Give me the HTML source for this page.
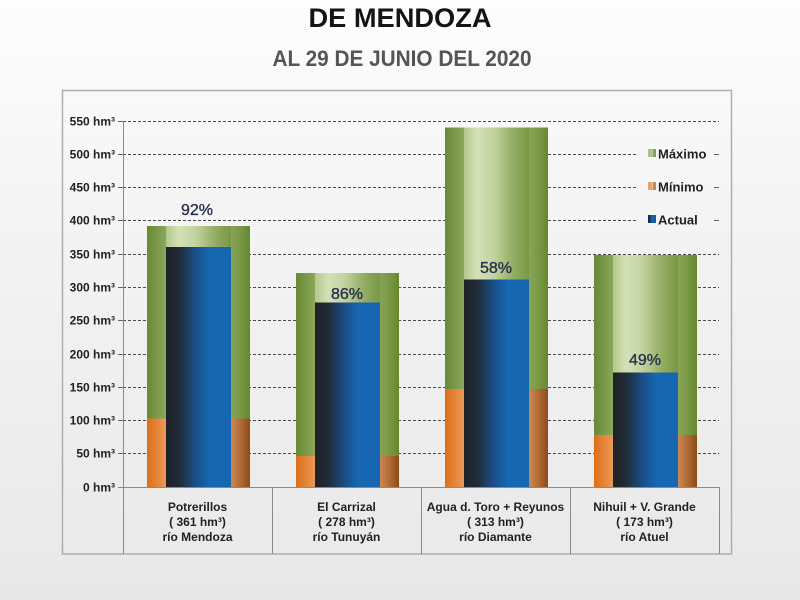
<!DOCTYPE html>
<html>
<head>
<meta charset="utf-8">
<style>
  html,body{margin:0;padding:0;}
  body{width:800px;height:600px;overflow:hidden;background:linear-gradient(to bottom,#fdfdfd 0%,#f3f3f3 40%,#e8e8e8 100%);font-family:"Liberation Sans",sans-serif;}
  svg{display:block;}
  text{font-family:"Liberation Sans",sans-serif;}
</style>
</head>
<body>
<svg width="800" height="600" viewBox="0 0 800 600" xmlns="http://www.w3.org/2000/svg">
  <defs>
    <linearGradient id="gL" x1="0" y1="0" x2="1" y2="0">
      <stop offset="0" stop-color="#698935"/>
      <stop offset="1" stop-color="#8aa75a"/>
    </linearGradient>
    <linearGradient id="gR" x1="0" y1="0" x2="1" y2="0">
      <stop offset="0" stop-color="#88a458"/>
      <stop offset="0.5" stop-color="#7a9946"/>
      <stop offset="1" stop-color="#66862f"/>
    </linearGradient>
    <linearGradient id="gI" x1="0" y1="0" x2="1" y2="0">
      <stop offset="0" stop-color="#b3c78a"/>
      <stop offset="0.2" stop-color="#d3e1b8"/>
      <stop offset="0.45" stop-color="#c3d3a0"/>
      <stop offset="0.75" stop-color="#94ad64"/>
      <stop offset="1" stop-color="#789843"/>
    </linearGradient>
    <linearGradient id="oL" x1="0" y1="0" x2="1" y2="0">
      <stop offset="0" stop-color="#dd6e17"/>
      <stop offset="1" stop-color="#ea9a58"/>
    </linearGradient>
    <linearGradient id="oR" x1="0" y1="0" x2="1" y2="0">
      <stop offset="0" stop-color="#c98a55"/>
      <stop offset="0.5" stop-color="#b06a35"/>
      <stop offset="1" stop-color="#8d4a1b"/>
    </linearGradient>
    <linearGradient id="bB" x1="0" y1="0" x2="1" y2="0">
      <stop offset="0" stop-color="#1e2226"/>
      <stop offset="0.2" stop-color="#202b38"/>
      <stop offset="0.45" stop-color="#1a4d85"/>
      <stop offset="0.65" stop-color="#1666b0"/>
      <stop offset="1" stop-color="#1766b2"/>
    </linearGradient>
  </defs>

  <!-- Titles -->
  <text x="400" y="27" text-anchor="middle" font-size="27" font-weight="bold" fill="#141414" textLength="183" lengthAdjust="spacingAndGlyphs">DE MENDOZA</text>
  <text x="402" y="66" text-anchor="middle" font-size="22" font-weight="bold" fill="#555555" textLength="259" lengthAdjust="spacingAndGlyphs">AL 29 DE JUNIO DEL 2020</text>

  <!-- Frame -->
  <rect x="62.5" y="90.5" width="669" height="463.5" fill="none" stroke="#aeaeae" stroke-width="1.5"/>

  <!-- Gridlines -->
  <g stroke="#4a4a4a" stroke-width="1" stroke-dasharray="3,2" fill="none">
    <line x1="123" y1="121.5" x2="719" y2="121.5"/>
    <line x1="123" y1="154.5" x2="636" y2="154.5"/>
    <line x1="123" y1="187.5" x2="636" y2="187.5"/>
    <line x1="123" y1="220.5" x2="636" y2="220.5"/>
    <line x1="123" y1="254.5" x2="719" y2="254.5"/>
    <line x1="123" y1="287.5" x2="719" y2="287.5"/>
    <line x1="123" y1="320.5" x2="719" y2="320.5"/>
    <line x1="123" y1="354.5" x2="719" y2="354.5"/>
    <line x1="123" y1="387.5" x2="719" y2="387.5"/>
    <line x1="123" y1="420.5" x2="719" y2="420.5"/>
    <line x1="123" y1="453.5" x2="719" y2="453.5"/>
  </g>
  <g stroke="#666" stroke-width="1">
    <line x1="714" y1="154.5" x2="719" y2="154.5"/>
    <line x1="714" y1="187.5" x2="719" y2="187.5"/>
    <line x1="714" y1="220.5" x2="719" y2="220.5"/>
  </g>

  <!-- Bar 1 Potrerillos -->
  <rect x="147" y="226" width="19" height="192.5" fill="url(#gL)"/>
  <rect x="147" y="418.5" width="19" height="68.5" fill="url(#oL)"/>
  <rect x="231" y="226" width="19" height="192.5" fill="url(#gR)"/>
  <rect x="231" y="418.5" width="19" height="68.5" fill="url(#oR)"/>
  <rect x="166" y="226" width="65" height="21" fill="url(#gI)"/>
  <rect x="166" y="247" width="65" height="240" fill="url(#bB)"/>

  <!-- Bar 2 El Carrizal -->
  <rect x="296" y="273" width="19" height="183" fill="url(#gL)"/>
  <rect x="296" y="456" width="19" height="31" fill="url(#oL)"/>
  <rect x="380" y="273" width="19" height="183" fill="url(#gR)"/>
  <rect x="380" y="456" width="19" height="31" fill="url(#oR)"/>
  <rect x="315" y="273" width="65" height="29.5" fill="url(#gI)"/>
  <rect x="315" y="302.5" width="65" height="184.5" fill="url(#bB)"/>

  <!-- Bar 3 Agua d. Toro -->
  <rect x="445" y="127.5" width="19" height="261.5" fill="url(#gL)"/>
  <rect x="445" y="389" width="19" height="98" fill="url(#oL)"/>
  <rect x="529" y="127.5" width="19" height="261.5" fill="url(#gR)"/>
  <rect x="529" y="389" width="19" height="98" fill="url(#oR)"/>
  <rect x="464" y="127.5" width="65" height="152" fill="url(#gI)"/>
  <rect x="464" y="279.5" width="65" height="207.5" fill="url(#bB)"/>

  <!-- Bar 4 Nihuil -->
  <rect x="594" y="255" width="19" height="180" fill="url(#gL)"/>
  <rect x="594" y="435" width="19" height="52" fill="url(#oL)"/>
  <rect x="678" y="255" width="19" height="180" fill="url(#gR)"/>
  <rect x="678" y="435" width="19" height="52" fill="url(#oR)"/>
  <rect x="613" y="255" width="65" height="117.5" fill="url(#gI)"/>
  <rect x="613" y="372.5" width="65" height="114.5" fill="url(#bB)"/>

  <!-- Percent labels -->
  <g font-size="16" fill="#25304d" stroke="#25304d" stroke-width="0.35" text-anchor="middle">
    <text x="197" y="215">92%</text>
    <text x="347" y="299">86%</text>
    <text x="496" y="273">58%</text>
    <text x="645" y="365">49%</text>
  </g>

  <!-- Axes -->
  <g stroke="#8a8a8a" stroke-width="1">
    <line x1="123.5" y1="121" x2="123.5" y2="554"/>
    <line x1="118" y1="487.5" x2="719" y2="487.5"/>
    <line x1="272.5" y1="487" x2="272.5" y2="554"/>
    <line x1="421.5" y1="487" x2="421.5" y2="554"/>
    <line x1="570.5" y1="487" x2="570.5" y2="554"/>
    <line x1="719.5" y1="487" x2="719.5" y2="554"/>
  </g>
  <g stroke="#666" stroke-width="1">
    <line x1="118" y1="121.5" x2="123" y2="121.5"/>
    <line x1="118" y1="154.5" x2="123" y2="154.5"/>
    <line x1="118" y1="187.5" x2="123" y2="187.5"/>
    <line x1="118" y1="220.5" x2="123" y2="220.5"/>
    <line x1="118" y1="254.5" x2="123" y2="254.5"/>
    <line x1="118" y1="287.5" x2="123" y2="287.5"/>
    <line x1="118" y1="320.5" x2="123" y2="320.5"/>
    <line x1="118" y1="354.5" x2="123" y2="354.5"/>
    <line x1="118" y1="387.5" x2="123" y2="387.5"/>
    <line x1="118" y1="420.5" x2="123" y2="420.5"/>
    <line x1="118" y1="453.5" x2="123" y2="453.5"/>
  </g>

  <!-- Y tick labels -->
  <g font-size="12" font-weight="bold" fill="#222" text-anchor="end">
    <text x="115" y="125.5">550 hm³</text>
    <text x="115" y="158.5">500 hm³</text>
    <text x="115" y="191.5">450 hm³</text>
    <text x="115" y="224.5">400 hm³</text>
    <text x="115" y="258.5">350 hm³</text>
    <text x="115" y="291.5">300 hm³</text>
    <text x="115" y="324.5">250 hm³</text>
    <text x="115" y="358.5">200 hm³</text>
    <text x="115" y="391.5">150 hm³</text>
    <text x="115" y="424.5">100 hm³</text>
    <text x="115" y="457.5">50 hm³</text>
    <text x="115" y="491.5">0 hm³</text>
  </g>

  <!-- Category labels -->
  <g font-size="12" font-weight="bold" fill="#222" text-anchor="middle">
    <text x="197.5" y="511">Potrerillos</text>
    <text x="197.5" y="526">( 361 hm³)</text>
    <text x="197.5" y="541">río Mendoza</text>
    <text x="346.5" y="511">El Carrizal</text>
    <text x="346.5" y="526">( 278 hm³)</text>
    <text x="346.5" y="541">río Tunuyán</text>
    <text x="495.5" y="511">Agua d. Toro + Reyunos</text>
    <text x="495.5" y="526">( 313 hm³)</text>
    <text x="495.5" y="541">río Diamante</text>
    <text x="644.5" y="511">Nihuil + V. Grande</text>
    <text x="644.5" y="526">( 173 hm³)</text>
    <text x="644.5" y="541">río Atuel</text>
  </g>

  <!-- Legend -->
  <rect x="648" y="149" width="4" height="8" fill="#a9c383"/>
  <rect x="652.5" y="149" width="3.5" height="8" fill="#84a155"/>
  <rect x="648" y="182" width="4" height="8" fill="#e6a46a"/>
  <rect x="652.5" y="182" width="3.5" height="8" fill="#c98a55"/>
  <rect x="648" y="215" width="8" height="8" fill="#1a5ea8"/>
  <rect x="648" y="215" width="2.5" height="8" fill="#1f2c3c"/>
  <g font-size="13" font-weight="bold" fill="#222">
    <text x="658" y="158.5">Máximo</text>
    <text x="658" y="191.5">Mínimo</text>
    <text x="658" y="224.5">Actual</text>
  </g>
</svg>
</body>
</html>
